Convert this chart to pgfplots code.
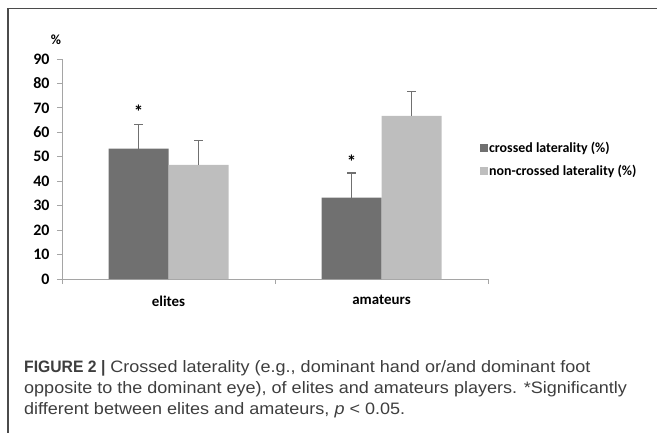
\documentclass[border=0pt]{standalone}
\usepackage{pgfplots}
\pgfplotsset{compat=1.18}
\usepackage{fontspec}
\setmainfont{Carlito}
\newfontfamily\capfont[FakeStretch=1.09]{Liberation Sans}
\newfontfamily\capboldfont[FakeStretch=0.95]{Liberation Sans Bold}
\definecolor{darkbar}{RGB}{112,112,112}
\definecolor{lightbar}{RGB}{190,190,190}
\definecolor{axisgray}{RGB}{165,165,165}
\definecolor{framegray}{RGB}{75,75,75}
\definecolor{captext}{RGB}{62,62,62}

\begin{document}
\begin{tikzpicture}
\useasboundingbox (0bp,0bp) rectangle (657bp,-433bp);
\draw[framegray, line width=1.5bp] (8bp,-440bp) -- (8bp,-8.5bp) -- (665bp,-8.5bp);
\begin{axis}[
  at={(62bp,-279bp)}, anchor=south west,
  scale only axis, width=426bp, height=220bp,
  xmin=-0.5, xmax=1.5, ymin=0, ymax=90,
  ytick={0,10,...,90},
  xtick={0,1}, xticklabels={elites,amateurs},
  extra x ticks={-0.5,0.5,1.5}, extra x tick labels={},
  extra x tick style={xtick style={draw=axisgray, line width=1bp}},
  axis lines*=left,
  axis line style={draw=axisgray, line width=1bp},
  tick align=outside, major tick length=5bp,
  ytick style={draw=axisgray, line width=1bp},
  xtick style={draw=none},
  ybar=0pt, bar width=60bp,
  /pgf/number format/assume math mode=true,
  tick label style={font=\bfseries\fontsize{15}{17}\selectfont},
  yticklabel style={xshift=-4bp, font=\bfseries\fontsize{16}{18}\selectfont},
  xticklabel style={yshift=-8bp},
  legend style={at={(0.981,0.543)}, anchor=west, draw=none, fill=none,
    inner sep=0pt, row sep=8bp,
    font=\bfseries\fontsize{14}{16}\selectfont,
    nodes={inner sep=1.5bp}},
  legend cell align=left,
]
\addplot[fill=darkbar, draw=none, bar shift=-30bp,
  legend image code/.code={\fill[darkbar] (0bp,-3.8bp) rectangle (7.5bp,3.8bp);},
  error bars/.cd, y dir=plus, y explicit, error mark=|,
  error bar style={darkbar, line width=1.5bp},
  error mark options={darkbar, line width=1.5bp, mark size=4.5bp}]
  coordinates {(0,53.3) +- (0,10) (1,33.3) +- (0,10)};
\addplot[fill=lightbar, draw=none, bar shift=30bp,
  legend image code/.code={\fill[lightbar] (0bp,-3.8bp) rectangle (7.5bp,3.8bp);},
  error bars/.cd, y dir=plus, y explicit, error mark=|,
  error bar style={darkbar, line width=1.5bp},
  error mark options={darkbar, line width=1.5bp, mark size=4.5bp}]
  coordinates {(0,46.7) +- (0,10) (1,66.7) +- (0,10)};
% significance asterisks above the crossed-laterality bars
\addplot[draw=none, fill=none, bar shift=-30bp, forget plot,
  nodes near coords={*},
  every node near coord/.append style={anchor=center, text=black,
    font=\bfseries\fontsize{19}{21}\selectfont}]
  coordinates {(0,68.4) (1,48.0)};
\legend{crossed laterality (\%), non-crossed laterality (\%)}
\end{axis}
\node[font=\bfseries\fontsize{14}{16}\selectfont, inner sep=0pt] at (56bp,-40bp) {\%};
\begin{scope}[every node/.style={anchor=base west, inner sep=0pt, text=captext,
    font=\capfont\fontsize{16.6}{20}\selectfont}]
\node at (24bp,-372bp) {{\capboldfont FIGURE 2 |} Crossed laterality (e.g., dominant hand or/and dominant foot};
\node at (24bp,-393bp) {opposite to the dominant eye), of elites and amateurs players. *Significantly};
\node at (24bp,-414bp) {different between elites and amateurs, \textit{p} < 0.05.};
\end{scope}
\end{tikzpicture}
\end{document}
